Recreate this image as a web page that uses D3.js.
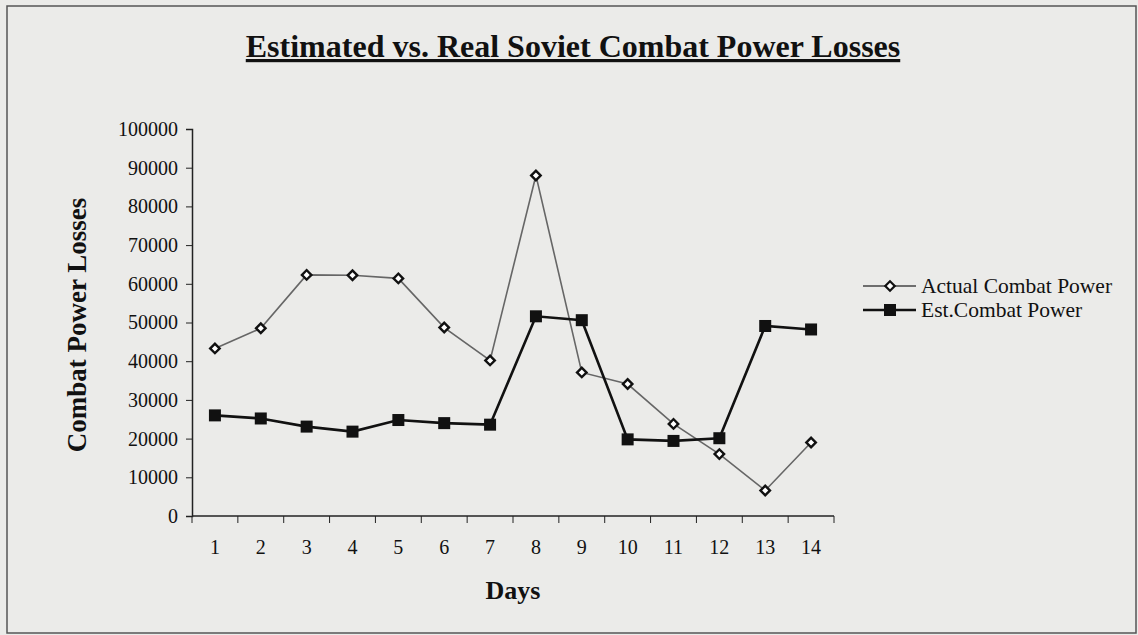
<!DOCTYPE html>
<html>
<head>
<meta charset="utf-8">
<script src="https://cdn.jsdelivr.net/npm/d3@7"></script>
<style>
  body { margin:0; background:#ebebe9; }
  svg { display:block; font-family:"Liberation Serif","Times New Roman",serif; }
</style>
</head>
<body>
<div id="chart"></div>
<script>
let days = [1,2,3,4,5,6,7,8,9,10,11,12,13,14]
let actualPower = [43300,48500,62300,62200,61400,48700,40200,88000,37100,34100,23800,16000,6600,19000]
let estPower = [26000,25200,23100,21800,24800,24000,23600,51600,50600,19800,19400,20100,49100,48200]
let yTicks = [0,10000,20000,30000,40000,50000,60000,70000,80000,90000,100000]
let seriesNames = ["Actual Combat Power","Est.Combat Power"]

let width = 1138, height = 635,
    margin = { top:129, right:304, left:192, bottom:119 },
    innerWidth = width - margin.left - margin.right,
    innerHeight = height - margin.top - margin.bottom;

let svg = d3.select("#chart").append("svg").attr("width",width).attr("height",height)

svg.append("rect").attr("x",7).attr("y",6).attr("width",1129).attr("height",627)
   .attr("fill","#ebebe9").attr("stroke","#555").attr("stroke-width",1.5)

let xScale = d3.scaleBand().domain(days).range([0,innerWidth])
let yScale = d3.scaleLinear().domain([0,100000]).range([innerHeight,0])
let xc = d => xScale(d) + xScale.bandwidth()/2

let g = svg.append("g").attr("transform",`translate(${margin.left},${margin.top})`)

// x axis: ticks at band edges, labels centered in bands
let xGroup = g.append("g").attr("transform",`translate(0,${innerHeight})`)
xGroup.append("line").attr("x1",0).attr("x2",innerWidth).attr("stroke","#222").attr("stroke-width",1.5)
xGroup.selectAll(".edge").data(days.concat([null])).enter().append("line")
  .attr("x1",(d,i)=> i*xScale.bandwidth()).attr("x2",(d,i)=> i*xScale.bandwidth())
  .attr("y1",0).attr("y2",7).attr("stroke","#222").attr("stroke-width",1)
xGroup.selectAll(".lbl").data(days).enter().append("text")
  .attr("x",d=>xc(d)).attr("y",38).attr("text-anchor","middle")
  .attr("font-size",20).attr("fill","#111").text(d=>d)

let yAxis = d3.axisLeft(yScale).tickValues(yTicks).tickSize(6).tickPadding(8).tickFormat(d3.format("d"))
let yGroup = g.append("g").call(yAxis)
  .attr("font-family","'Liberation Serif','Times New Roman',serif").attr("font-size",20)
yGroup.select(".domain").attr("stroke","#222").attr("stroke-width",1.5)
yGroup.selectAll(".tick line").attr("stroke","#222")
yGroup.selectAll(".tick text").attr("fill","#111")

let line = d3.line().x((d,i)=>xc(days[i])).y(d=>yScale(d))

g.append("path").datum(actualPower).attr("d",line)
  .attr("fill","none").attr("stroke","#666").attr("stroke-width",1.6)
g.append("path").datum(estPower).attr("d",line)
  .attr("fill","none").attr("stroke","#111").attr("stroke-width",2.6)

let diamond = d3.symbol().type(d3.symbolSquare).size(45)
g.selectAll(".act").data(actualPower).enter().append("path")
  .attr("d",diamond())
  .attr("transform",(d,i)=>`translate(${xc(days[i])},${yScale(d)}) rotate(45)`)
  .attr("fill","#fff").attr("stroke","#111").attr("stroke-width",2.4)

g.selectAll(".est").data(estPower).enter().append("rect")
  .attr("x",(d,i)=>xc(days[i])-6).attr("y",d=>yScale(d)-6)
  .attr("width",12).attr("height",12).attr("fill","#111")

// title
svg.append("text").attr("x",573).attr("y",57).attr("text-anchor","middle")
  .attr("font-size",32).attr("font-weight","bold").attr("fill","#111")
  .attr("text-decoration","underline")
  .text("Estimated vs. Real Soviet Combat Power Losses")

svg.append("text").attr("transform","translate(86,325) rotate(-90)")
  .attr("text-anchor","middle").attr("font-size",27).attr("font-weight","bold").attr("fill","#111")
  .text("Combat Power Losses")

svg.append("text").attr("x",513).attr("y",599).attr("text-anchor","middle")
  .attr("font-size",26).attr("font-weight","bold").attr("fill","#111").text("Days")

// legend
let legend = svg.append("g").attr("transform","translate(863,286)")
seriesNames.forEach((name,i)=>{
  let row = legend.append("g").attr("transform",`translate(0,${i*24})`)
  row.append("line").attr("x1",0).attr("x2",53)
    .attr("stroke",i==0?"#444":"#111").attr("stroke-width",i==0?1.6:2.6)
  if(i==0){
    row.append("path").attr("d",diamond()).attr("transform","translate(27,0) rotate(45)")
      .attr("fill","#fff").attr("stroke","#111").attr("stroke-width",2.2)
  } else {
    row.append("rect").attr("x",21).attr("y",-6).attr("width",12).attr("height",12).attr("fill","#111")
  }
  row.append("text").attr("x",58).attr("y",7).attr("font-size",21.5).attr("fill","#111").text(name)
})
</script>
</body>
</html>
